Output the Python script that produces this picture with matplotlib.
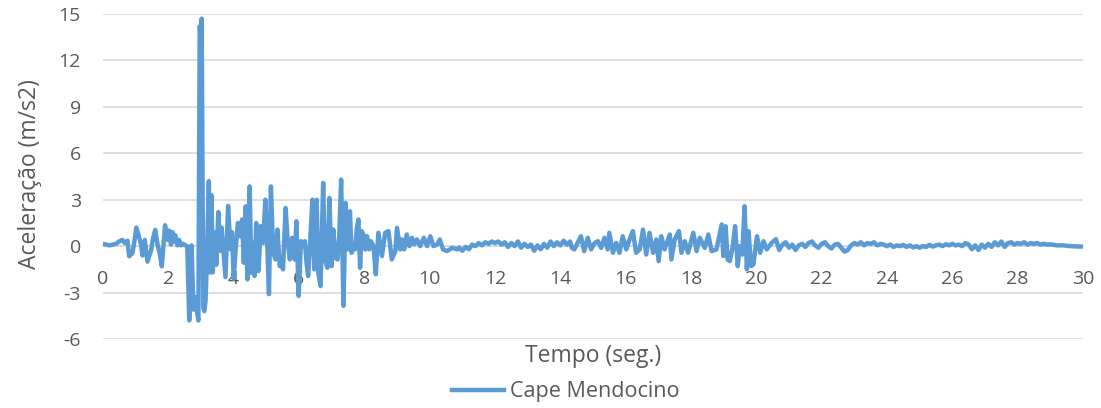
import matplotlib
matplotlib.use("Agg")
import matplotlib.pyplot as plt
from matplotlib.lines import Line2D

# ---- data ----
tempo = [
    0.0, 0.1, 0.2, 0.3, 0.4, 0.49, 0.59, 0.67, 0.75, 0.8, 0.9, 0.96, 1.02, 1.09, 1.16, 1.21,
    1.28, 1.36, 1.42, 1.47, 1.53, 1.6, 1.67, 1.74, 1.8, 1.85, 1.9, 1.94, 1.98, 2.03, 2.08,
    2.13, 2.17, 2.21, 2.28, 2.33, 2.39, 2.45, 2.52, 2.58,
    2.64, 2.71, 2.77, 2.82, 2.86, 2.92, 2.96, 3.0, 3.02, 3.07, 3.1, 3.14, 3.18, 3.24, 3.28,
    3.32, 3.36, 3.41, 3.47, 3.53, 3.58, 3.63, 3.68, 3.75, 3.83, 3.9, 3.95, 4.0,
    4.06, 4.13, 4.21, 4.26, 4.31, 4.37, 4.42, 4.49, 4.54, 4.59, 4.64, 4.69, 4.76, 4.83, 4.9,
    4.97, 5.03, 5.08, 5.14, 5.21, 5.28, 5.34, 5.41, 5.46, 5.51, 5.59, 5.65, 5.72, 5.79, 5.87,
    5.92, 5.99, 6.06, 6.11, 6.18, 6.23, 6.28, 6.33, 6.41, 6.47, 6.54, 6.59, 6.66, 6.74, 6.79,
    6.87, 6.93, 7.0, 7.05, 7.12, 7.18, 7.23, 7.29, 7.36, 7.43, 7.49, 7.56, 7.61, 7.67, 7.72,
    7.77, 7.82, 7.87, 7.92, 7.97, 8.03, 8.08, 8.15, 8.2, 8.28, 8.35, 8.43, 8.54, 8.64, 8.74,
    8.84, 8.95, 9.0, 9.1, 9.15, 9.22, 9.3, 9.38, 9.46, 9.53, 9.61, 9.71, 9.82, 9.92, 10.02,
    10.12, 10.23, 10.31, 10.41, 10.53, 10.69, 10.84,
    10.9, 11.0, 11.1, 11.2, 11.3, 11.4, 11.5, 11.6, 11.7, 11.8, 11.9, 12.0, 12.1, 12.2, 12.3,
    12.4, 12.5, 12.6, 12.7, 12.8, 12.9, 13.0, 13.1, 13.2, 13.3, 13.4, 13.5, 13.6, 13.7, 13.8,
    13.9, 14.0, 14.1, 14.2, 14.3, 14.35,
    14.43, 14.63, 14.73, 14.84, 14.94, 15.05, 15.15, 15.25, 15.35, 15.45, 15.5, 15.61, 15.71,
    15.81, 15.91, 16.02, 16.12, 16.22, 16.32, 16.43, 16.53, 16.63, 16.73, 16.84, 16.94, 17.01,
    17.09, 17.19, 17.35, 17.4, 17.5, 17.63, 17.71, 17.81, 17.91, 18.07, 18.17, 18.27, 18.42,
    18.53, 18.63, 18.78, 18.94, 18.99, 19.06, 19.12, 19.19, 19.28, 19.35, 19.43, 19.5, 19.57,
    19.64, 19.71, 19.76, 19.84, 19.91, 20.02, 20.12, 20.22, 20.32, 20.47,
    20.6, 20.7, 20.8, 20.9, 21.0, 21.1, 21.2, 21.3, 21.4, 21.5, 21.6, 21.7, 21.8, 21.9, 22.0,
    22.1, 22.2, 22.3, 22.4, 22.5, 22.6, 22.7, 22.8, 22.9, 23.0, 23.1, 23.2, 23.3, 23.4, 23.5,
    23.6, 23.7, 23.8, 23.9, 24.0, 24.1, 24.2, 24.3, 24.4, 24.5, 24.6, 24.7, 24.8, 24.9, 25.0,
    25.1, 25.2, 25.3, 25.4, 25.5, 25.6, 25.7, 25.8, 25.9, 26.0, 26.1, 26.2, 26.3, 26.4, 26.5,
    26.6, 26.7, 26.8, 26.9, 27.0, 27.1, 27.2, 27.3, 27.4, 27.5, 27.6, 27.7, 27.8, 27.9, 28.0,
    28.1, 28.2, 28.3, 28.4, 28.5, 28.6, 28.7, 28.8, 28.9, 29.0, 29.2, 29.4, 29.6, 29.8, 30.0,
]

aceleracao = [
    0.15, 0.1, 0.05, 0.1, 0.15, 0.3, 0.4, 0.2, 0.35, -0.65, -0.45, 0.3, 1.2, 0.7, 0.15, -0.6,
    0.4, -1.0, -0.6, -0.3, 0.5, 1.05, 0.1, -0.5, -1.3, 0.0, 1.35, 0.8, 0.4, 1.0, 0.1,
    0.9, 0.3, 0.7, 0.05, 0.4, 0.05, 0.15, 0.05, 0.0,
    -4.8, 0.05, -4.1, -3.3, -4.0, -4.8, 14.2, 13.5, 14.7, -4.0, -4.2, -3.5, -1.0, 4.2, -1.7,
    3.3, -1.7, 0.9, -1.2, 2.2, -0.3, 1.2, -0.1, -2.0, 2.6, -0.2, 0.9, -2.1,
    -0.21, 1.5, 0.64, 1.72, -1.07, 2.58, -2.15, 3.86, -1.72, 0.21, -1.93, 1.5, -1.61, 1.29, 0.21,
    3.0, 0.0, -3.1, 3.86, -0.43, -0.86, 1.07, -1.29, -0.86, -1.5, 2.47, 0.43, -0.86, 0.54, -0.86,
    1.61, -3.22, 0.32, 0.0, 0.32, -1.07, -1.93, -0.21, 3.0, -1.5, 3.0, -1.72, -2.58, 4.08, -0.86,
    -1.4, 3.11, -1.29, 1.07, -0.75, -0.86, 0.54, 4.3, -3.86, 2.79, -0.21, 2.25, -0.43, 0.0, -0.21,
    1.18, 1.72, -1.4, 0.97, 0.75, -0.21, 0.64, -0.21, 0.32, 0.0, -1.82, 0.86, -0.64, 0.86, 0.97,
    -0.86, -0.32, 1.18, -0.21, 0.43, -0.21, 0.75, 0.0, 0.54, 0.11, 0.43, 0.0, 0.54, 0.0, 0.64,
    0.0, 0.11, 0.43, -0.21, -0.32, -0.11, -0.21,
    -0.1, -0.3, -0.05, -0.2, 0.1, 0.0, 0.2, 0.05, 0.25, 0.15, 0.3, 0.2, 0.3, 0.1, 0.25,
    -0.05, 0.2, 0.0, 0.3, -0.1, 0.15, -0.05, 0.1, -0.3, 0.05, -0.2, 0.15, -0.1, 0.3, 0.0,
    0.25, 0.05, 0.35, 0.1, 0.3, -0.1,
    -0.21, 0.64, -0.32, 0.54, -0.21, 0.2, 0.32, -0.11, 0.54, -0.21, 0.86, -0.43, 0.21,
    -0.43, 0.64, -0.21, 0.43, 0.97, -0.43, -0.21, 1.07, -0.54, 0.86, -0.43, 0.43, -0.97,
    0.64, -0.21, 0.75, -0.86, 0.43, 0.97, -0.43, 0.32, -0.43, 0.86, -0.32, 0.54, -0.11,
    0.75, -0.32, -0.21, 1.4, -0.64, 1.29, -0.86, -0.97, 0.0, 1.29, -1.29, 0.0, -0.54,
    2.58, -1.5, 0.97, -1.29, -1.18, 0.64, -0.43, 0.32, -0.21, 0.21,
    0.45, -0.25, 0.1, 0.25, -0.1, 0.1, -0.25, 0.05, 0.15, -0.05, 0.2, 0.3, 0.05, -0.1, 0.15,
    0.25, 0.0, -0.15, 0.1, 0.15, -0.1, -0.35, -0.25, 0.05, 0.2, 0.1, 0.25, 0.05, 0.2, 0.15,
    0.25, 0.05, 0.15, 0.1, 0.0, 0.1, -0.05, 0.05, 0.0, 0.08, -0.05, 0.05, -0.08, 0.0, -0.1,
    0.0, -0.05, 0.08, -0.03, 0.05, 0.1, 0.0, 0.12, 0.05, 0.15, 0.05, 0.1, 0.0, 0.2, 0.1,
    -0.2, 0.05, -0.25, 0.1, -0.1, 0.15, -0.05, 0.25, 0.05, 0.3, -0.05, 0.2, 0.25, 0.1, 0.2,
    0.15, 0.25, 0.1, 0.2, 0.15, 0.2, 0.1, 0.15, 0.1, 0.12, 0.05, 0.05, 0.0, -0.02, -0.03,
]

x_ticks = list(range(0, 31, 2))
y_ticks = [-6, -3, 0, 3, 6, 9, 12, 15]
serie = "Cape Mendocino"
x_titulo = "Tempo (seg.)"
y_titulo = "Aceleração (m/s2)"

# ---- style ----
plt.rcParams['font.family'] = ['Open Sans', 'DejaVu Sans']
txt = '#595959'
azul = '#5B9BD5'
grade = '#D9D9D9'

fig = plt.figure(figsize=(11.01, 4.08), dpi=100)
ax = fig.add_axes([103 / 1101, 1 - 339 / 408, (1083 - 103) / 1101, (339 - 14) / 408])

ax.plot(tempo, aceleracao, color=azul, lw=3.2, solid_joinstyle='round', zorder=3)

ax.set_xlim(0, 30)
ax.set_ylim(-6, 15)
ax.set_yticks(y_ticks)
ax.set_xticks(x_ticks)
ax.set_yticklabels([str(v) for v in y_ticks])
ax.set_xticklabels([str(v) for v in x_ticks])

ax.grid(axis='y', color=grade, lw=1.2, zorder=0)
ax.set_axisbelow(True)
for s in ['left', 'right', 'top']:
    ax.spines[s].set_visible(False)
ax.spines['bottom'].set_position(('data', 0))
ax.spines['bottom'].set_color(grade)
ax.spines['bottom'].set_linewidth(1.2)
ax.tick_params(axis='both', length=0, labelsize=14, labelcolor=txt)
ax.tick_params(axis='y', pad=16)
ax.tick_params(axis='x', pad=17)

fig.text(0.5385, 1 - 356 / 408, x_titulo, ha='center', va='center', fontsize=16.5, color=txt)
fig.text(30 / 1101, 1 - 174 / 408, y_titulo, ha='center', va='center', rotation=90,
         fontsize=16.5, color=txt)

handle = Line2D([], [], color=azul, lw=3.2)
fig.legend([handle], [serie], loc='center', bbox_to_anchor=(566 / 1101, 1 - 392 / 408),
           frameon=False, fontsize=15.5, labelcolor=txt, handlelength=2.4, handletextpad=0.3)

fig.savefig('out.png', dpi=100)
